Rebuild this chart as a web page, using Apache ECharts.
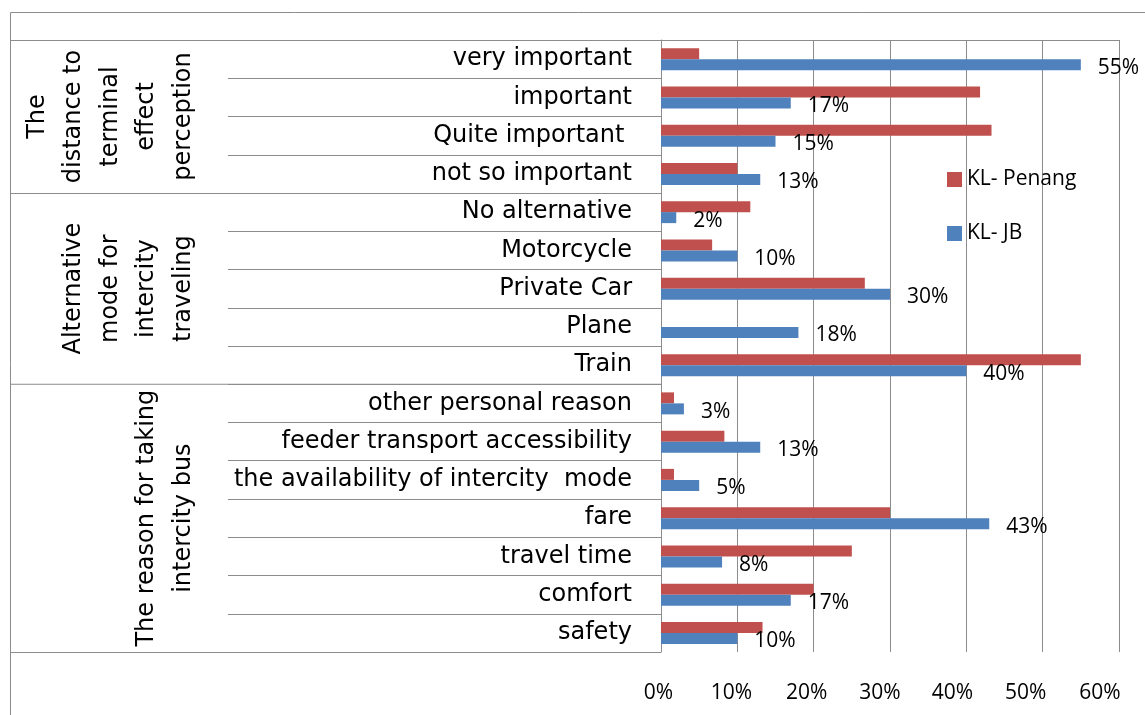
<!DOCTYPE html>
<html>
<head>
<meta charset="utf-8">
<title>Intercity bus survey: KL-Penang vs KL-JB</title>
<script src="https://cdn.jsdelivr.net/npm/echarts@6/dist/echarts.min.js"></script>
<style>
  html, body { margin: 0; padding: 0; background: #fff; }
  #chart { width: 1145px; height: 715px; }
</style>
</head>
<body>
<div id="chart"></div>
<script>
// Survey answers, top to bottom
const categories = [
  'very important', 'important', 'Quite important ', 'not so important',
  'No alternative', 'Motorcycle', 'Private Car', 'Plane', 'Train',
  'other personal reason', 'feeder transport accessibility',
  'the availability of intercity  mode', 'fare', 'travel time', 'comfort', 'safety'
];

// Share of respondents (%)
const klPenang = [5, 41.8, 43.3, 10, 11.7, 6.7, 26.7, 0, 55, 1.7, 8.3, 1.7, 30, 25, 20, 13.3];
const klJB = [55, 17, 15, 13, 2, 10, 30, 18, 40, 3, 13, 5, 43, 8, 17, 10];

const seriesNames = ['KL- Penang', 'KL- JB'];

// Question groups: boundaries (in category rows) and titles
const groupBounds = [0, 4, 9, 16];
const groupNames = [
  'The\ndistance to\nterminal\neffect\nperception',
  'Alternative\nmode for\nintercity\ntraveling',
  'The reason for taking\nintercity bus'
];
const groupCenters = groupNames.map((_, i) => (groupBounds[i] + groupBounds[i + 1]) / 2);

// Axis ticks (%)
const xMin = 0, xMax = 60, xStep = 10;

const FONT = 'DejaVu Sans';
const NUM_FONT = 'Open Sans';
const LINE = '#8c8c8c';

// tick labels sit progressively left of their grid lines
const tickNudge = [2.5, 6, 7, 10, 14, 17, 19];
const tickRich = {};
tickNudge.forEach((s, i) => {
  tickRich['t' + i] = {
    fontFamily: NUM_FONT, fontSize: 21, color: '#000',
    padding: [0, 2 * s, 0, 0]
  };
});

const chart = echarts.init(document.getElementById('chart'), null, { renderer: 'canvas' });

chart.setOption({
  animation: false,
  backgroundColor: '#ffffff',
  textStyle: { fontFamily: FONT },
  graphic: [{
    type: 'rect',
    shape: { x: 10.5, y: 12.5, width: 1300, height: 900 },
    style: { fill: 'none', stroke: LINE, lineWidth: 1 },
    silent: true
  }],
  legend: {
    orient: 'vertical',
    left: 942,
    top: 164,
    itemWidth: 15,
    itemHeight: 15,
    itemGap: 33,
    icon: 'rect',
    data: seriesNames,
    textStyle: { fontFamily: NUM_FONT, fontSize: 21, lineHeight: 20, color: '#000' }
  },
  grid: {
    left: 661, top: 40, width: 458, height: 612,
    outerBoundsMode: 'none',
    containLabel: false
  },
  xAxis: {
    type: 'value',
    min: xMin, max: xMax, interval: xStep,
    axisLine: { show: true, lineStyle: { color: LINE, width: 1 } },
    axisTick: { show: true, length: 6, lineStyle: { color: LINE } },
    splitLine: { show: true, lineStyle: { color: LINE, width: 1 } },
    axisLabel: {
      formatter: (v) => `{t${Math.round((v - xMin) / xStep)}|${v}%}`,
      rich: tickRich,
      margin: 31,
      fontFamily: NUM_FONT, fontSize: 21, color: '#000'
    }
  },
  yAxis: [{
    type: 'category',
    data: categories,
    inverse: true,
    position: 'left',
    axisLine: { show: true, lineStyle: { color: LINE, width: 1 } },
    axisTick: { show: true, interval: 0, length: 433, lineStyle: { color: LINE, width: 1 } },
    axisLabel: {
      interval: 0, margin: 29,
      fontFamily: FONT, fontSize: 24, color: '#000'
    }
  }, {
    // group column: divider lines and rotated group titles
    type: 'value',
    min: groupBounds[0], max: groupBounds[groupBounds.length - 1],
    inverse: true,
    position: 'left',
    splitLine: { show: false },
    axisLine: { show: false },
    axisTick: {
      show: true, customValues: groupBounds, length: 651,
      lineStyle: { color: LINE, width: 1 }
    },
    axisLabel: {
      show: true,
      customValues: groupCenters,
      formatter: (v) => groupNames[groupCenters.indexOf(v)] || '',
      rotate: 90,
      margin: 459,
      fontFamily: FONT, fontSize: 24, lineHeight: 36.5, color: '#000',
      align: 'center'
    }
  }],
  series: [{
    name: seriesNames[0],
    type: 'bar',
    yAxisIndex: 0,
    data: klPenang,
    barWidth: 11,
    barGap: '0%',
    itemStyle: { color: '#C0504D' }
  }, {
    name: seriesNames[1],
    type: 'bar',
    yAxisIndex: 0,
    data: klJB,
    barWidth: 11,
    barGap: '0%',
    itemStyle: { color: '#4F81BD' },
    label: {
      show: true,
      position: 'right',
      distance: 17,
      offset: [0, 3],
      formatter: '{c}%',
      fontFamily: NUM_FONT, fontSize: 21, color: '#000'
    }
  }]
});
</script>
</body>
</html>
